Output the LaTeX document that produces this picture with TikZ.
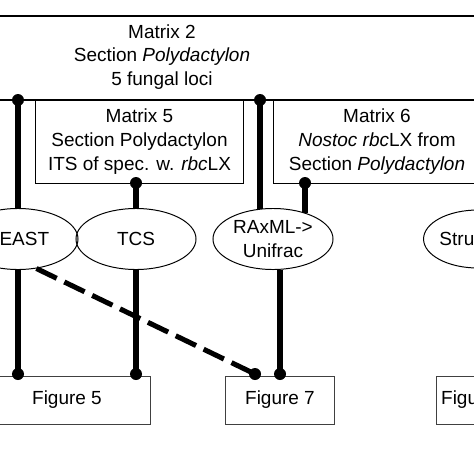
\documentclass[tikz,border=0pt]{standalone}
\usepackage{fontspec}
\setmainfont{Liberation Sans}
\usetikzlibrary{shapes.geometric}
\begin{document}
\begin{tikzpicture}[x=0.025cm, y=-0.025cm]
      \tikzstyle{every node} = [font=\fontsize{13.5}{17}\selectfont, align=center]
      \useasboundingbox (0,0) rectangle (474,474);
      \clip (0,0) rectangle (474,474);

      % matrices
      \draw[line width=1.4pt] (-20,16) rectangle (494,100);
      \node(mat2) at (162,57) {Matrix 2\\Section \textit{Polydactylon}\\5 fungal loci};
      \tikzstyle{matbox} = [draw, line width=0.7pt, minimum width=5.175cm, minimum height=2.075cm, inner sep=0pt]
      \node[matbox](mat5) at (139.5,141.5) {Matrix 5\\Section Polydactylon\\ITS of spec. w. \textit{rbc}LX};
      \node[matbox](mat6) at (377,141.5) {Matrix 6\\\textit{Nostoc rbc}LX from\\Section \textit{Polydactylon}};

      % methods
      \tikzstyle{method} = [draw, ellipse, line width=0.7pt, minimum width=3cm, minimum height=1.525cm, inner sep=0pt]
      \node[method](beast) at (18,239) {BEAST};
      \node[method](tcs) at (136,239) {TCS};
      \node[method](raxml) at (273,239) {RAxML->\\Unifrac};
      \node[method, minimum width=2.1cm, minimum height=1.45cm](struct) at (478,239) {Structure};

      % figures
      \tikzstyle{figbox} = [draw=black!75, line width=0.7pt, minimum height=1.2cm, inner sep=0pt]
      \node[figbox, minimum width=4.15cm](fig5) at (67,400) {Figure 5};
      \node[figbox, minimum width=2.7cm](fig7) at (280,400) {Figure 7};
      \node[figbox, minimum width=2cm](fig6) at (476,400) {Figure 6};

      % joints
      \tikzstyle{joint} = [circle, fill, inner sep=0pt, minimum size=0.3cm]
      \node[joint](j1) at (18,100) {};
      \node[joint](j2) at (260,100) {};
      \node[joint](j3) at (136,183) {};
      \node[joint](j4) at (305,183) {};
      \node[joint](j5) at (18,374) {};
      \node[joint](j6) at (136,374) {};
      \node[joint](j7) at (255,374) {};
      \node[joint](j8) at (280,374) {};

      \tikzstyle{link} = [line width=4.3pt]
      \draw[link] (j1.center) -- (beast.north);
      \draw[link] (beast.south) -- (j5.center);
      \draw[link] (j3.center) -- (tcs.north);
      \draw[link] (tcs.south) -- (j6.center);
      \draw[link] (j2.center) -- (j2 |- raxml.114);
      \draw[link] (j4.center) -- (j4 |- raxml.39);
      \draw[link] (raxml.south -| j8) -- (j8.center);
      \draw[line width=3.6pt, dash pattern=on 16pt off 6pt] (beast.-58) -- (j7.center);
    \end{tikzpicture}
\end{document}
